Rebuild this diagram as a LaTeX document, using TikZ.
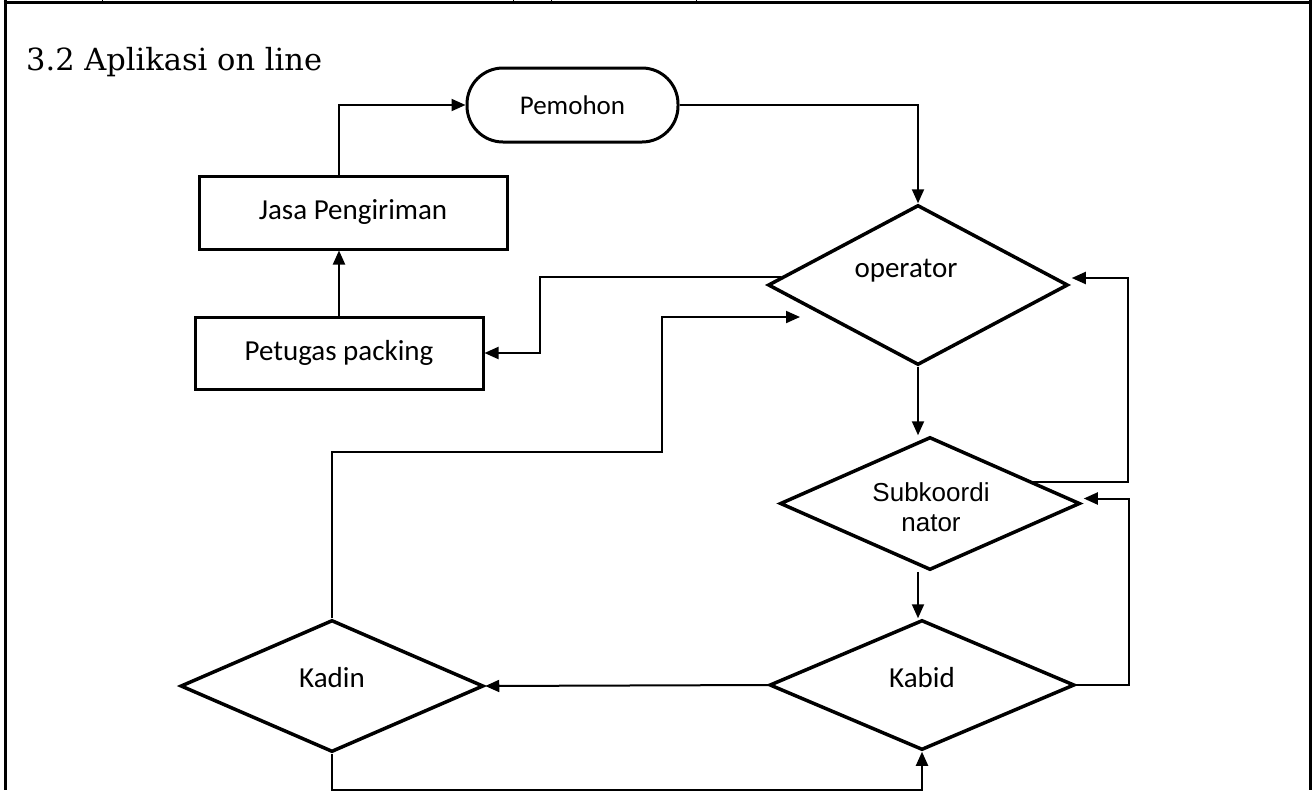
\documentclass[tikz,border=0pt]{standalone}
\usepackage{fontspec}
\setmainfont{Carlito}
\newfontfamily\titlefont{DejaVu Serif}
\newfontfamily\arialfont{Liberation Sans}
\usetikzlibrary{arrows.meta,shapes.geometric,calc}

\begin{document}
\begin{tikzpicture}[x=1pt,y=-1pt,
  conn/.style={line width=2pt,-{Triangle[length=14pt,width=12pt]}},
  frame/.style={line width=3pt},
  box/.style={draw,line width=3pt,rectangle,inner sep=0pt,
    font=\fontsize{29}{34}\selectfont},
  decision/.style={draw,line width=3.5pt,diamond,inner sep=0pt},
  lbl/.style={inner sep=0pt,font=\fontsize{29}{34}\selectfont},
  sublbl/.style={inner sep=0pt,align=center,
    font=\arialfont\fontsize{26}{30}\selectfont},
]
\useasboundingbox (0,0) rectangle (1316,790);

% page frame and the bottom of the row above it
\draw[frame] (5,0) -- (5,790);
\draw[frame] (1310,0) -- (1310,790);
\draw[frame] (3.5,2) -- (1311.5,2);
\foreach \tx in {102,513,551,696} \draw[line width=1pt] (\tx,0) -- (\tx,2);

% heading
\node[anchor=base west,inner sep=0pt,font=\titlefont\fontsize{30.5}{36}\selectfont]
  (title) at (26,70) {3.2 Aplikasi on line};

% terminal and boxes
\node[draw,line width=3pt,rounded corners=36pt,minimum width=211pt,
  minimum height=74pt,inner sep=0pt,font=\fontsize{27}{32}\selectfont]
  (pem) at (572.5,105) {Pemohon};
\node[box,minimum width=308pt,minimum height=73pt] (jasa) at (353,212.5) {Jasa Pengiriman};
\node[box,minimum width=288pt,minimum height=72pt] (pet) at (339,353) {Petugas packing};

% decisions
\node[decision,minimum width=300pt,minimum height=160pt] (op) at (918,285) {};
\node[lbl] (opt) at (906,271) {operator};
\node[decision,minimum width=300pt,minimum height=133pt] (subk) at (930,503.5) {};
\node[sublbl] (subkt) at (931,507) {Subkoordi\\nator};
\node[decision,minimum width=305pt,minimum height=130pt] (kabid) at (922,685) {};
\node[lbl] (kabidt) at (922,678) {Kabid};
\node[decision,minimum width=303pt,minimum height=132pt] (kadin) at (332,686) {};
\node[lbl] (kadint) at (332,678) {Kadin};

% connector end points on the decision outlines
\coordinate (opL) at ($(op.west)!0.1!(op.north)$);
\coordinate (opR) at ($(op.east)+(2,-7)$);
\coordinate (opIn) at (800,317);
\coordinate (sR) at ($(subk.north)!0.68!(subk.east)$);
\coordinate (sE) at ($(subk.east)+(2,-5)$);

% flow
\draw[conn] (pem.east) -| (op.north);
\draw[conn] (opL) -- ++(-241,0) |- (pet.east);
\draw[conn] (pet.north) -- (jasa.south -| pet.north);
\draw[conn] (jasa.north -| pet.north) |- (pem.west);
\draw[conn] (kadin.north) |- (662,452) |- (opIn);
\draw[conn] (op.south) -- (op.south |- subk.north);
\draw[conn] (sR) -- ++(95,0) |- (opR);
\draw[conn] (kabid.east) -- ++(52.5,0) |- (sE);
\draw[conn] (subk.south -| op.south) -- (kabid.north -| op.south);
\draw[conn] (kabid.west) -- (kadin.east);
\draw[conn] (kadin.south) -- ++(0,36) -| (kabid.south);
\end{tikzpicture}
\end{document}
